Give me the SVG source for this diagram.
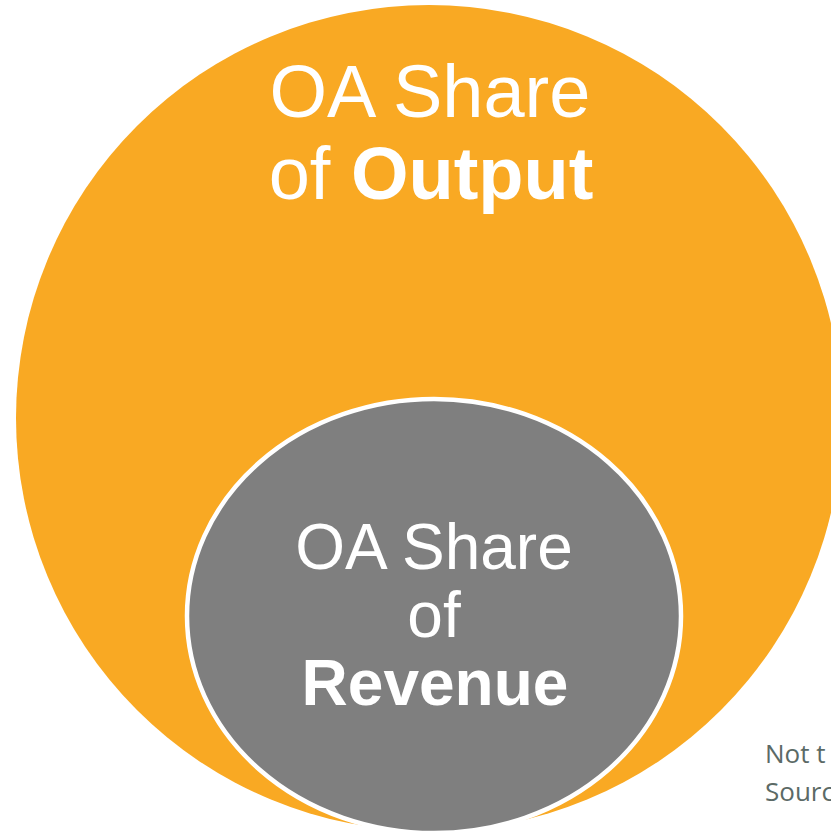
<svg xmlns="http://www.w3.org/2000/svg" width="831" height="832" viewBox="0 0 831 832">
<style>
.t{font-family:"Liberation Sans",Arial,sans-serif;fill:#ffffff;text-anchor:middle}
.b{font-weight:bold}
.n{font-family:"Open Sans","Noto Sans",sans-serif;fill:#5b6a66;font-size:26px}
</style>
<rect width="831" height="832" fill="#ffffff"/>
<g id="output">
<circle cx="429" cy="418" r="413" fill="#F9A923"/>
<text class="t" x="430" y="117" font-size="74">OA Share</text>
<text class="t" x="431" y="199" font-size="74">of <tspan class="b">Output</tspan></text>
</g>
<g id="revenue">
<ellipse cx="434" cy="616" rx="247" ry="217" fill="#7F7F7F" stroke="#ffffff" stroke-width="4.5"/>
<text class="t" x="434" y="569" font-size="64">OA Share</text>
<text class="t" x="434" y="637" font-size="64">of</text>
<text class="t b" x="435" y="705" font-size="64">Revenue</text>
</g>
<g id="note">
<text class="n" x="765" y="763">Not t</text>
<text class="n" x="765" y="801">Sourc</text>
</g>
</svg>
